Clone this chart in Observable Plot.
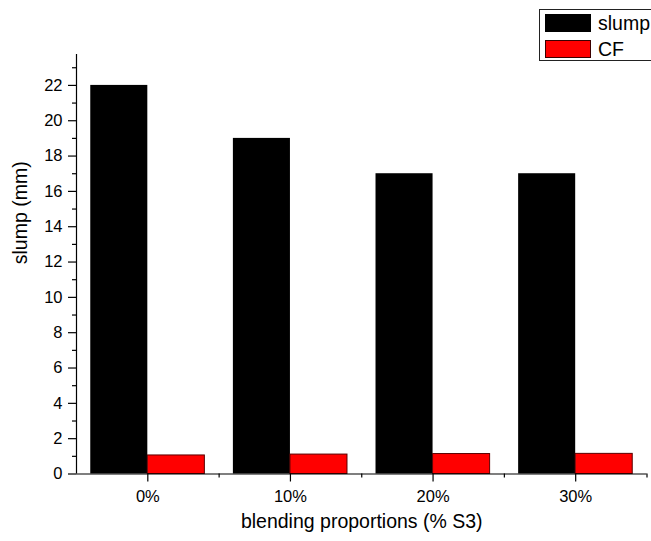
<!DOCTYPE html>
<html>
<head>
<meta charset="utf-8">
<script src="https://cdn.jsdelivr.net/npm/d3@7"></script>
<script src="https://cdn.jsdelivr.net/npm/@observablehq/plot@0.6"></script>
<style>
  html, body { margin: 0; padding: 0; background: #fff; overflow: hidden; }
  #chart { position: relative; width: 651px; height: 541px; font-family: "Liberation Sans", Arial, sans-serif; }
  .legend { position: absolute; left: 539px; top: 9px; width: 130px; height: 52px; border: 1px solid #222; box-sizing: border-box; background: #fff; }
  .legend .item { position: absolute; left: 5px; display: flex; align-items: center; height: 18px; }
  .legend .sw { width: 46px; height: 18px; box-sizing: border-box; border: 1px solid; }
  .legend span { font-size: 19.5px; margin-left: 7px; color: #000; line-height: 18px; }
</style>
</head>
<body>
<div id="chart"></div>
<script>
// Blending proportion categories (% S3) and their numeric positions
const categories = ["0%", "10%", "20%", "30%"];
const blend = [0, 10, 20, 30];

// Measured series
const slump = [22, 19, 17, 17];
const cf = [1.05, 1.1, 1.13, 1.14];

// Legend entries
const seriesNames = ["slump", "CF"];
const seriesFill = ["#000000", "#ff0000"];
const seriesStroke = ["#000000", "#5a0000"];

// Axis ticks
const yTicks = [0, 2, 4, 6, 8, 10, 12, 14, 16, 18, 20, 22];
const yMinorTicks = [1, 3, 5, 7, 9, 11, 13, 15, 17, 19, 21, 23];

const rows = categories.map((c, i) => ({category: c, pct: blend[i], slump: slump[i], cf: cf[i]}));

const step = blend[1] - blend[0];
const barSpan = step * 0.4;           // each bar covers 40% of a category slot
const xDomain = [blend[0] - step / 2, blend[blend.length - 1] + step / 2];
const xMinorTicks = blend.map(v => v + step / 2);

const plot = Plot.plot({
  width: 651,
  height: 541,
  marginLeft: 76,
  marginRight: 4.5,
  marginTop: 54,
  marginBottom: 67.5,
  style: {fontFamily: "'Liberation Sans', Arial, sans-serif", background: "#fff", color: "#000"},
  x: {type: "linear", domain: xDomain, axis: null},
  y: {domain: [0, 23.75], axis: null},
  marks: [
    Plot.rect(rows, {x1: d => d.pct - barSpan, x2: "pct", y1: 0, y2: "slump", fill: seriesFill[0]}),
    Plot.rect(rows, {x1: "pct", x2: d => d.pct + barSpan, y1: 0, y2: "cf", fill: seriesFill[1], stroke: seriesStroke[1], strokeWidth: 1}),
    // axis lines
    Plot.ruleX([xDomain[0]], {stroke: "#000", strokeWidth: 1.2}),
    Plot.ruleY([0], {stroke: "#000", strokeWidth: 1.2}),
    // y axis: major and minor ticks
    Plot.axisY({ticks: yTicks, tickSize: 8, tickPadding: 6, fontSize: 16.5, label: null, strokeWidth: 1.2}),
    Plot.axisY({ticks: yMinorTicks, tickSize: 4, tickFormat: () => "", label: null, strokeWidth: 1.2}),
    // x axis: category ticks and slot boundaries
    Plot.axisX({ticks: blend, tickFormat: d => categories[blend.indexOf(d)], tickSize: 8, tickPadding: 8, fontSize: 16.5, label: null, strokeWidth: 1.2}),
    Plot.axisX({ticks: xMinorTicks, tickSize: 4, tickFormat: () => "", label: null, strokeWidth: 1.2}),
    // axis titles
    Plot.text(["slump (mm)"], {frameAnchor: "left", rotate: -90, dx: -56, fontSize: 19.5, fontWeight: "normal", fill: "#000"}),
    Plot.text(["blending proportions (% S3)"], {frameAnchor: "bottom", dy: 54, fontSize: 19.5, fontWeight: "normal", fill: "#000"})
  ]
});

const chart = document.getElementById("chart");
chart.appendChild(plot);

// Legend box
const legend = document.createElement("div");
legend.className = "legend";
seriesNames.forEach((name, i) => {
  const item = document.createElement("div");
  item.className = "item";
  item.style.top = (4 + i * 26) + "px";
  const sw = document.createElement("div");
  sw.className = "sw";
  sw.style.background = seriesFill[i];
  sw.style.borderColor = seriesStroke[i] === "#000000" ? "#000" : "#3a0000";
  const label = document.createElement("span");
  label.textContent = name;
  item.appendChild(sw);
  item.appendChild(label);
  legend.appendChild(item);
});
chart.appendChild(legend);
</script>
</body>
</html>
